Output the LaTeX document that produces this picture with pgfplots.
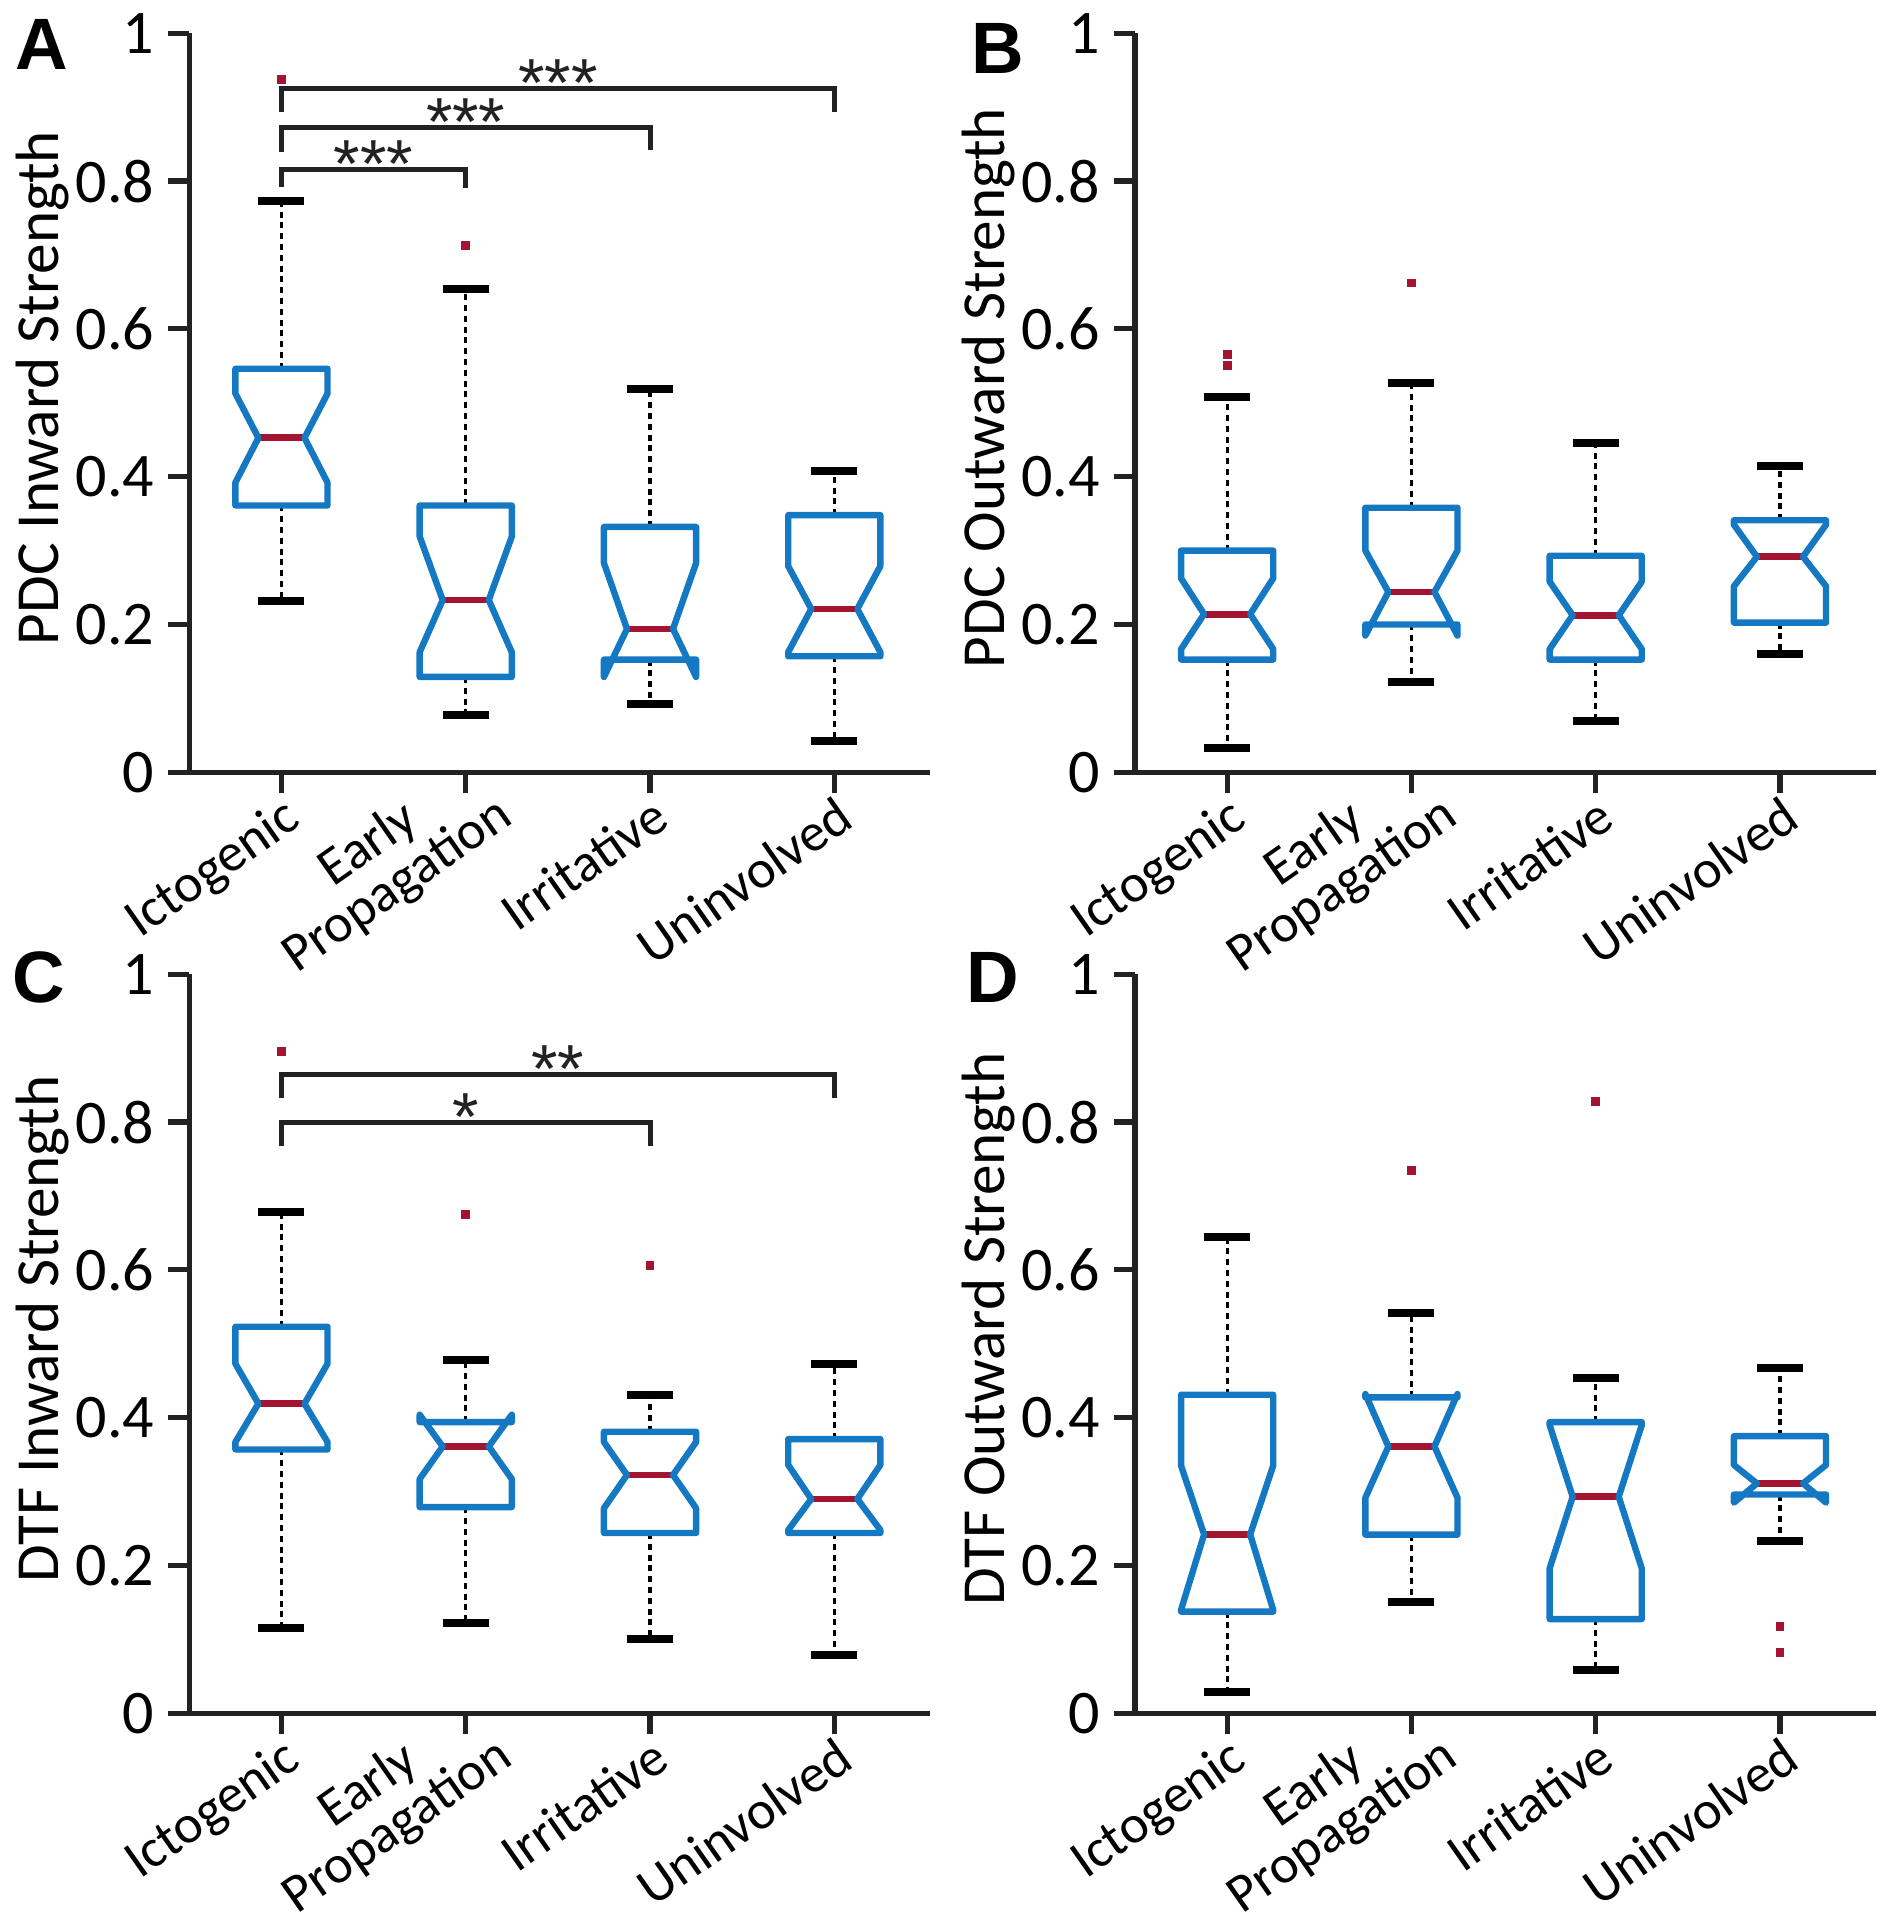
\documentclass[border=0pt]{standalone}
\usepackage{fontspec}
\setmainfont{Carlito}
\newfontfamily\panelfont{Liberation Sans}
\usepackage{pgfplots}
\pgfplotsset{compat=1.18}

\definecolor{boxblue}{RGB}{20,120,195}
\definecolor{medred}{RGB}{162,20,47}
\definecolor{axisgray}{RGB}{34,34,34}

\pgfplotsset{
  panel/.style={
    scale only axis, width=185.2pt, height=184.75pt,
    xmin=0.5, xmax=4.52, ymin=0, ymax=1,
    axis x line*=bottom, axis y line*=left,
    axis line style={line width=1.3pt, color=axisgray},
    tick style={line width=1.3pt, color=axisgray},
    tick align=outside, major tick length=5.25pt,
    ytick={0,0.2,0.4,0.6,0.8,1},
    xtick={1,3,4}, xticklabels={Ictogenic,Irritative,Uninvolved},
    extra x ticks={2}, extra x tick labels={{Early\\Propagation}},
    /pgf/number format/assume math mode=true,
    yticklabel style={font=\fontsize{15.5}{16}\selectfont},
    xticklabel style={rotate=35, anchor=north east, inner sep=0pt, align=center,
      font=\fontsize{13.5}{12.5}\selectfont},
    extra x tick style={xticklabel style={xshift=6.1pt, yshift=9.25pt}},
    label style={font=\fontsize{15.3}{18}\selectfont},
    ylabel style={at={(axis description cs:-0.176,0.52)}, anchor=base},
    clip=false,
  },
  whisk/.style={black, line width=0.8pt, dash pattern=on 1.5pt off 1.2pt},
  capl/.style={black, line width=2pt},
  boxl/.style={boxblue, line width=1.6pt, line join=round},
  medl/.style={medred, line width=1.7pt},
  outl/.style={only marks, mark=square*, mark size=0.9pt, color=medred},
  brk/.style={axisgray, line width=1.25pt},
}
\tikzset{
  stars/.style={font=\panelfont\fontsize{17}{18}\selectfont, anchor=base, inner sep=0pt, yshift=-4.5pt, text=axisgray},
  letter/.style={font=\panelfont\bfseries\fontsize{18.2}{20}\selectfont, anchor=center, inner sep=0pt},
}

% x, lower cap, Q1, notch low, median, notch high, Q3, upper cap
\newcommand{\nbox}[8]{%
  \pgfmathsetmacro\xa{#1-0.25}\pgfmathsetmacro\xb{#1+0.25}%
  \pgfmathsetmacro\na{#1-0.125}\pgfmathsetmacro\nb{#1+0.125}%
  \edef\tmp{%
    \noexpand\addplot[whisk] coordinates {(#1,#7) (#1,#8)};
    \noexpand\addplot[whisk] coordinates {(#1,#3) (#1,#2)};
    \noexpand\addplot[capl] coordinates {(\na,#8) (\nb,#8)};
    \noexpand\addplot[capl] coordinates {(\na,#2) (\nb,#2)};
    \noexpand\addplot[medl] coordinates {(\na,#5) (\nb,#5)};
    \noexpand\addplot[boxl] coordinates {(#1,#7) (\xb,#7) (\xb,#6) (\nb,#5) (\xb,#4) (\xb,#3)
      (\xa,#3) (\xa,#4) (\na,#5) (\xa,#6) (\xa,#7) (#1,#7)};
  }\tmp}

\begin{document}
\begin{tikzpicture}
\path[use as bounding box] (0,0) rectangle (471.5pt,480pt);

% A
\begin{axis}[panel, at={(47.33pt,286.93pt)}, anchor=south west, ylabel={PDC Inward Strength}]
\nbox{1}{0.232}{0.361}{0.392}{0.4525}{0.5125}{0.546}{0.773}
\nbox{2}{0.077}{0.129}{0.1625}{0.233}{0.319}{0.361}{0.654}
\nbox{3}{0.092}{0.1525}{0.129}{0.194}{0.283}{0.332}{0.519}
\nbox{4}{0.042}{0.157}{0.1625}{0.221}{0.279}{0.348}{0.408}
\addplot[outl] coordinates {(1,0.937) (2,0.7125)};
\addplot[brk] coordinates {(1,0.792) (1,0.815) (2,0.815) (2,0.79)};
\addplot[brk] coordinates {(1,0.84) (1,0.873) (3,0.873) (3,0.842)};
\addplot[brk] coordinates {(1,0.893) (1,0.925) (4,0.925) (4,0.893)};
\node[stars] at (axis cs:1.5,0.815) {***};
\node[stars] at (axis cs:2,0.873) {***};
\node[stars] at (axis cs:2.5,0.925) {***};
\node[letter] at (axis description cs:-0.199,0.985) {A};
\end{axis}

% B
\begin{axis}[panel, at={(283.75pt,286.93pt)}, anchor=south west, ylabel={PDC Outward Strength}]
\nbox{1}{0.033}{0.1525}{0.1667}{0.214}{0.2625}{0.30}{0.508}
\nbox{2}{0.1225}{0.20}{0.185}{0.244}{0.30}{0.358}{0.527}
\nbox{3}{0.069}{0.1525}{0.1667}{0.2125}{0.258}{0.293}{0.445}
\nbox{4}{0.16}{0.2025}{0.2517}{0.2917}{0.335}{0.341}{0.415}
\addplot[outl] coordinates {(1,0.55) (1,0.565) (2,0.662)};
\node[letter] at (axis description cs:-0.185,0.98) {B};
\end{axis}

% C
\begin{axis}[panel, at={(47.33pt,51.68pt)}, anchor=south west, ylabel={DTF Inward Strength}]
\nbox{1}{0.115}{0.357}{0.367}{0.419}{0.473}{0.523}{0.679}
\nbox{2}{0.1225}{0.279}{0.317}{0.361}{0.404}{0.394}{0.4775}
\nbox{3}{0.10}{0.244}{0.2775}{0.3225}{0.367}{0.381}{0.431}
\nbox{4}{0.079}{0.244}{0.248}{0.29}{0.336}{0.371}{0.4725}
\addplot[outl] coordinates {(1,0.896) (2,0.675) (3,0.606)};
\addplot[brk] coordinates {(1,0.767) (1,0.80) (3,0.80) (3,0.767)};
\addplot[brk] coordinates {(1,0.832) (1,0.865) (4,0.865) (4,0.832)};
\node[stars] at (axis cs:2,0.80) {*};
\node[stars] at (axis cs:2.5,0.865) {**};
\node[letter] at (axis description cs:-0.203,0.996) {C};
\end{axis}

% D
\begin{axis}[panel, at={(283.75pt,51.68pt)}, anchor=south west, ylabel={DTF Outward Strength}]
\nbox{1}{0.029}{0.1375}{0.14}{0.242}{0.335}{0.431}{0.644}
\nbox{2}{0.15}{0.2417}{0.2917}{0.361}{0.432}{0.4275}{0.5417}
\nbox{3}{0.058}{0.1275}{0.196}{0.293}{0.39}{0.394}{0.454}
\nbox{4}{0.233}{0.296}{0.285}{0.311}{0.336}{0.375}{0.467}
\addplot[outl] coordinates {(2,0.735) (3,0.828) (4,0.117) (4,0.082)};
\node[letter] at (axis description cs:-0.192,0.996) {D};
\end{axis}
\end{tikzpicture}
\end{document}
